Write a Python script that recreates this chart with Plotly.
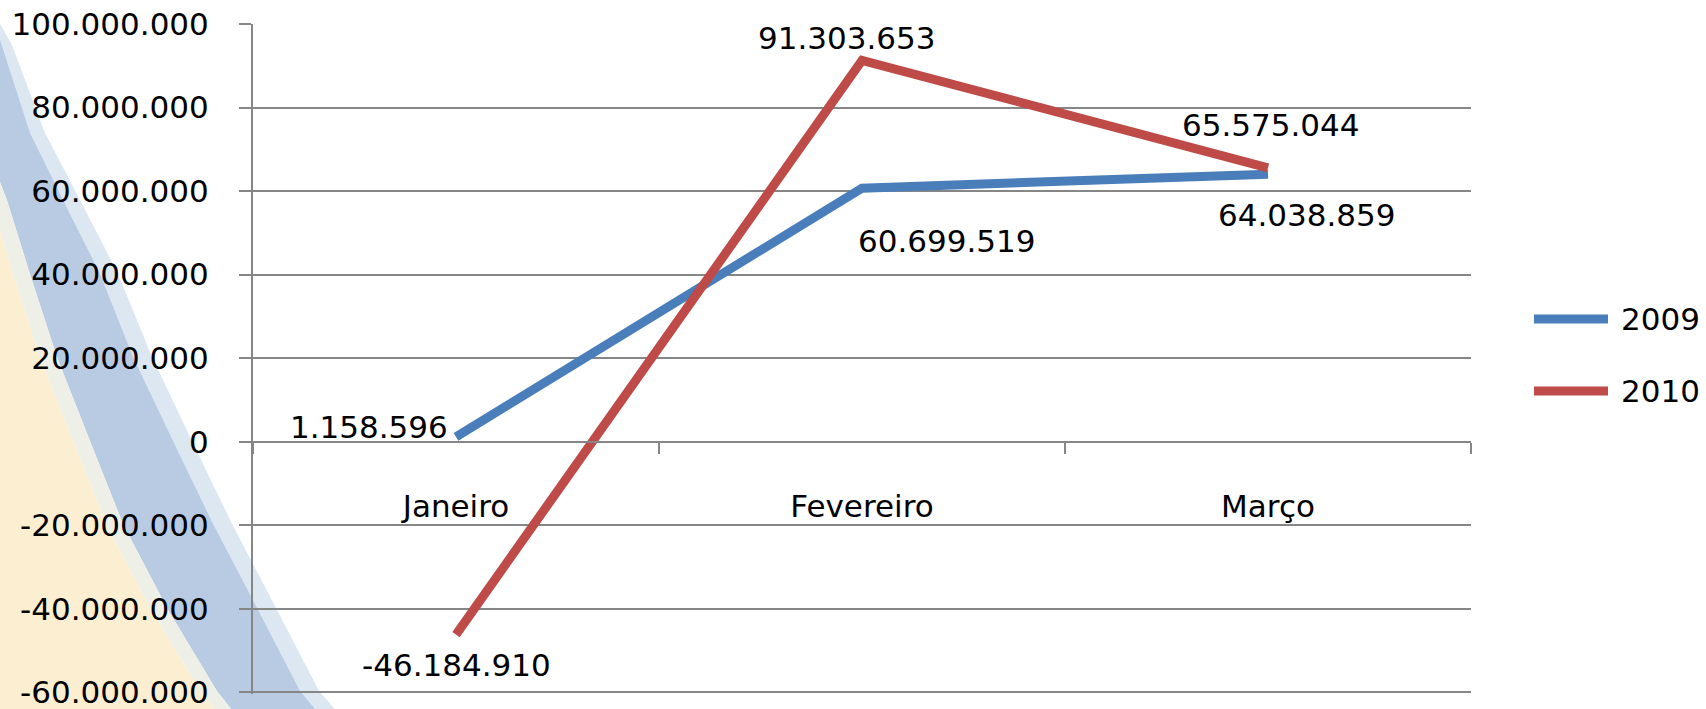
import plotly.graph_objects as go

# ---- data ----
categories = ["Janeiro", "Fevereiro", "Março"]
series_names = ["2009", "2010"]
values_2009 = [1158596, 60699519, 64038859]
values_2010 = [-46184910, 91303653, 65575044]
y_tickvals = [-60000000, -40000000, -20000000, 0, 20000000, 40000000, 60000000, 80000000, 100000000]
y_ticktext = ["-60.000.000", "-40.000.000", "-20.000.000", "0", "20.000.000",
              "40.000.000", "60.000.000", "80.000.000", "100.000.000"]

# ---- styles ----
colors = ["#4A7EBB", "#BE4B48"]
FONT = "DejaVu Sans"
FS = 31
GRID = "#868686"
# label offsets (xanchor, xshift, yshift) per series/point
label_style_2009 = [("right", -6, 10), ("left", -6, -53), ("center", 39, -41)]
label_style_2010 = [("center", 0, -30), ("center", -15, 22), ("center", 3, 43)]

W, H = 1706, 709
L, R, T, B = 253, 1471, 24, 692
YMIN, YMAX = -60000000, 100000000
PAD = 400000  # small bottom padding so the -60M grid line is kept
BPAD_PX = 2


def fmt(v):
    return f"{v:,}".replace(",", ".")


def px(x):
    return (x - L) / (R - L)


def py(y):
    return (B + BPAD_PX - y) / (B + BPAD_PX - T)


def path(points):
    return "M " + " L ".join(f"{px(x):.4f},{py(y):.4f}" for x, y in points) + " Z"


fig = go.Figure()
for name, vals, col in zip(series_names, [values_2009, values_2010], colors):
    fig.add_trace(go.Scatter(x=categories, y=vals, mode="lines", name=name,
                             line=dict(color=col, width=9), showlegend=False))

annotations = []
for vals, styles in [(values_2009, label_style_2009), (values_2010, label_style_2010)]:
    for c, v, (xa, xs, ys) in zip(categories, vals, styles):
        annotations.append(dict(x=c, y=v, xref="x", yref="y", text=fmt(v), showarrow=False,
                                xanchor=xa, yanchor="middle", xshift=xs, yshift=ys,
                                font=dict(family=FONT, size=FS, color="black")))

# custom legend
legend_y = [319, 391]
shapes = []
for name, col, ly in zip(series_names, colors, legend_y):
    shapes.append(dict(type="line", xref="paper", yref="paper", x0=px(1534), x1=px(1608),
                       y0=py(ly), y1=py(ly), line=dict(color=col, width=9)))
    annotations.append(dict(xref="paper", yref="paper", x=px(1619), y=py(ly), text=name,
                            showarrow=False, xanchor="left", yanchor="middle",
                            font=dict(family=FONT, size=FS, color="black")))

# background swoosh (decoration)
upper = [(-5, 30), (0, 40), (30, 133), (63, 200), (100, 274), (133, 357), (173, 441),
         (213, 524), (257, 608), (300, 691), (320, 715)]
soft_upper = [(-5, 15), (12, 45), (45, 133), (80, 200), (118, 274), (152, 357), (192, 441),
              (232, 524), (276, 608), (319, 691), (340, 715)]
lower = [(236, 715), (217, 691), (167, 608), (123, 524), (90, 441), (57, 357),
         (30, 274), (7, 200), (0, 182), (-5, 172)]
stripe = [(219, 715), (200, 691), (150, 608), (106, 524), (73, 441), (40, 357),
          (13, 274), (-5, 215)]
yellow_pts = list(stripe) + [(-5, 715)]
bg_shapes = [
    dict(type="path", xref="paper", yref="paper", layer="below",
         path=path(yellow_pts), fillcolor="#FCEFD1", line=dict(width=0)),
    dict(type="path", xref="paper", yref="paper", layer="below",
         path=path(soft_upper + lower), fillcolor="#DDE7F2", line=dict(width=0)),
    dict(type="path", xref="paper", yref="paper", layer="below",
         path=path(upper + lower), fillcolor="#B8CBE2", line=dict(width=0)),
    dict(type="path", xref="paper", yref="paper", layer="below",
         path=path(lower + list(reversed(stripe))), fillcolor="#EEF0E8", line=dict(width=0)),
]
shapes = bg_shapes + shapes

fig.update_layout(
    width=W, height=H,
    margin=dict(l=L, r=W - R, t=T, b=H - B - BPAD_PX, pad=0),
    paper_bgcolor="white", plot_bgcolor="rgba(0,0,0,0)",
    font=dict(family=FONT, size=FS, color="black"),
    showlegend=False,
    shapes=shapes, annotations=annotations,
    xaxis=dict(type="category", range=[-0.5, 2.5], anchor="free",
               position=(0 - (YMIN - PAD)) / (YMAX - (YMIN - PAD)),
               showline=True, linecolor=GRID, linewidth=2,
               ticks="outside", tickson="boundaries", ticklen=11, tickcolor=GRID, tickwidth=2,
               showgrid=False, zeroline=False, automargin=False,
               ticklabelstandoff=37, tickfont=dict(family=FONT, size=FS, color="black")),
    yaxis=dict(range=[YMIN - PAD, YMAX], tickvals=y_tickvals, ticktext=y_ticktext,
               showline=True, linecolor=GRID, linewidth=2,
               ticks="outside", ticklen=12, tickcolor=GRID, tickwidth=2,
               showgrid=True, gridcolor=GRID, gridwidth=2, zeroline=False, automargin=False,
               ticklabeloverflow="allow",
               ticklabelstandoff=24, tickfont=dict(family=FONT, size=FS, color="black")),
)

fig.write_html("out.html", config={"displayModeBar": False},
               post_script="document.body.style.margin='0';document.body.style.overflow='hidden';")
